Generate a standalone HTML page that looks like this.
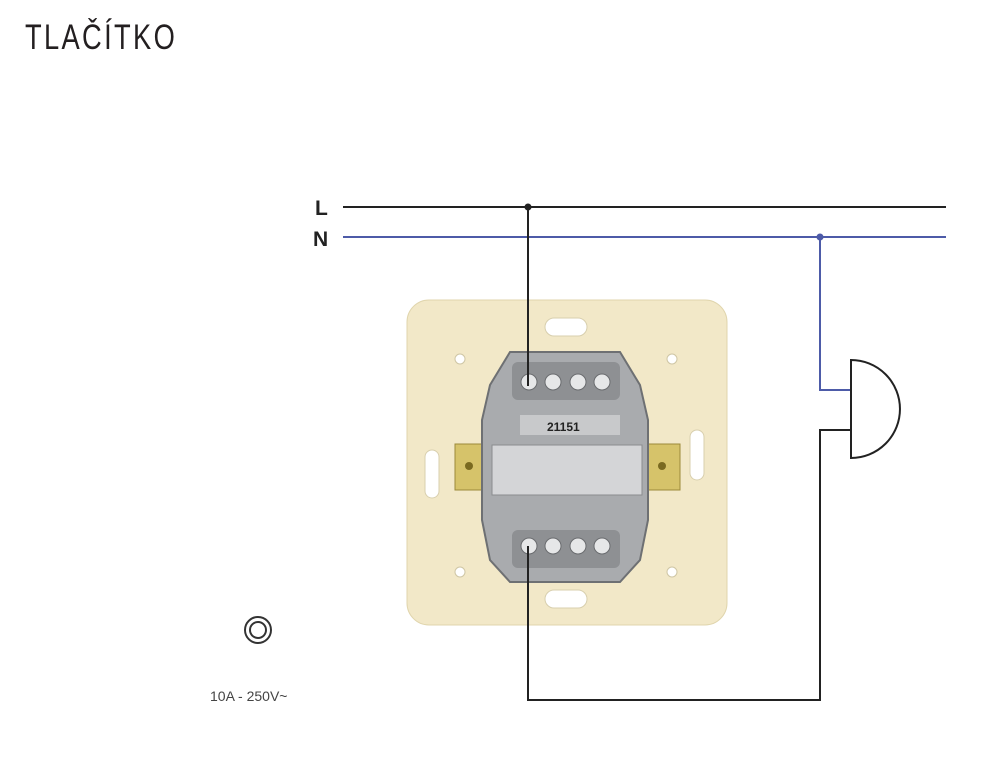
<!DOCTYPE html>
<html><head><meta charset="utf-8"><style>
body{margin:0;background:#fff;width:1000px;height:772px;overflow:hidden}
svg{display:block}
</style></head><body>
<svg width="1000" height="772" viewBox="0 0 1000 772" xmlns="http://www.w3.org/2000/svg">
<text x="25" y="49" font-family="Liberation Sans, sans-serif" font-size="35" fill="#231f20" letter-spacing="3" transform="translate(25 0) scale(0.78 1) translate(-25 0)">TLAČÍTKO</text>
<!-- plate -->
<rect x="407" y="300" width="320" height="325" rx="22" fill="#f2e8c8" stroke="#e0d5ad" stroke-width="1"/>
<rect x="545" y="318" width="42" height="18" rx="9" fill="#fff" stroke="#d8cfae"/>
<rect x="545" y="590" width="42" height="18" rx="9" fill="#fff" stroke="#d8cfae"/>
<rect x="425" y="450" width="14" height="48" rx="7" fill="#fff" stroke="#d8cfae"/>
<rect x="690" y="430" width="14" height="50" rx="7" fill="#fff" stroke="#d8cfae"/>
<circle cx="460" cy="359" r="5" fill="#fff" stroke="#cfc6a5"/>
<circle cx="672" cy="359" r="5" fill="#fff" stroke="#cfc6a5"/>
<circle cx="460" cy="572" r="5" fill="#fff" stroke="#cfc6a5"/>
<circle cx="672" cy="572" r="5" fill="#fff" stroke="#cfc6a5"/>
<!-- tabs -->
<rect x="455" y="444" width="32" height="46" fill="#d6c36a" stroke="#9c8a3a"/>
<rect x="645" y="444" width="35" height="46" fill="#d6c36a" stroke="#9c8a3a"/>
<circle cx="469" cy="466" r="4" fill="#7a6a20"/>
<circle cx="662" cy="466" r="4" fill="#7a6a20"/>
<!-- mechanism -->
<path d="M510 352 L620 352 L640 385 L648 420 L648 520 L640 560 L620 582 L510 582 L490 560 L482 520 L482 420 L490 385 Z" fill="#a9abae" stroke="#6e7073" stroke-width="2"/>
<rect x="492" y="445" width="150" height="50" fill="#d4d5d7" stroke="#8a8c8f"/>
<rect x="512" y="362" width="108" height="38" rx="6" fill="#8e9093"/>
<rect x="512" y="530" width="108" height="38" rx="6" fill="#8e9093"/>
<g fill="#e6e7e8" stroke="#6a6c6f">
<circle cx="529" cy="382" r="8"/><circle cx="553" cy="382" r="8"/><circle cx="578" cy="382" r="8"/><circle cx="602" cy="382" r="8"/>
<circle cx="529" cy="546" r="8"/><circle cx="553" cy="546" r="8"/><circle cx="578" cy="546" r="8"/><circle cx="602" cy="546" r="8"/>
</g>
<rect x="520" y="415" width="100" height="20" fill="#c8c9cb"/>
<text x="547" y="431" font-family="Liberation Sans, sans-serif" font-size="12" font-weight="bold" fill="#222">21151</text>
<!-- wires -->
<line x1="343" y1="207" x2="946" y2="207" stroke="#222" stroke-width="2"/>
<line x1="343" y1="237" x2="946" y2="237" stroke="#4d5ba8" stroke-width="2"/>
<circle cx="528" cy="207" r="3.5" fill="#222"/>
<circle cx="820" cy="237" r="3.5" fill="#4d5ba8"/>
<line x1="528" y1="207" x2="528" y2="386" stroke="#222" stroke-width="2"/>
<polyline points="820,237 820,390 850,390" fill="none" stroke="#4d5ba8" stroke-width="2"/>
<polyline points="850,430 820,430 820,700 528,700 528,546" fill="none" stroke="#222" stroke-width="2"/>
<path d="M851 360 L851 458 A49 49 0 0 0 851 360 Z" fill="#fff" stroke="#222" stroke-width="2"/>
<text x="315" y="215" font-family="Liberation Sans, sans-serif" font-size="21" font-weight="bold" fill="#222">L</text>
<text x="313" y="246" font-family="Liberation Sans, sans-serif" font-size="21" font-weight="bold" fill="#222">N</text>
<circle cx="258" cy="630" r="13" fill="none" stroke="#333" stroke-width="2"/>
<circle cx="258" cy="630" r="8" fill="none" stroke="#333" stroke-width="2"/>
<text x="210" y="701" font-family="Liberation Sans, sans-serif" font-size="14" fill="#444">10A - 250V~</text>
</svg>
</body></html>
